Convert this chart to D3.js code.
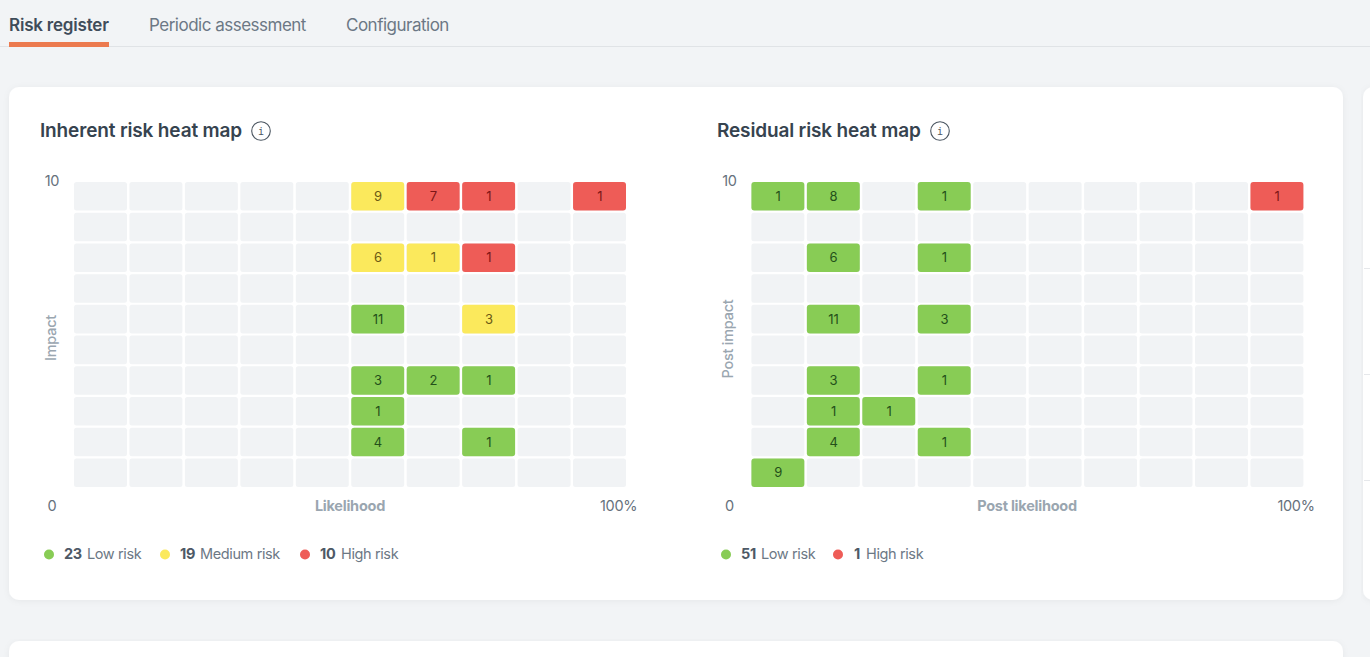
<!DOCTYPE html>
<html><head><meta charset="utf-8">
<script src="https://cdn.jsdelivr.net/npm/d3@7/dist/d3.min.js"></script>
<style>
html,body{margin:0;padding:0;background:#f2f4f6;overflow:hidden}
svg{display:block}
text{font-family:Inter,"Noto Sans",sans-serif}
</style></head><body>
<svg id="c" width="1370" height="657"></svg>
<script>
const tabs = ["Risk register","Periodic assessment","Configuration"];
const likelihoodBuckets = [0,1,2,3,4,5,6,7,8,9];
const impactBuckets = [9,8,7,6,5,4,3,2,1,0];
const levels = ["low","medium","high"];
const levelLabels = {low:"Low risk",medium:"Medium risk",high:"High risk"};
const colors = {low:"#88cc55",medium:"#fbe95c",high:"#ee5c57"};
const textColors = {low:"#24501a",medium:"#6b5a14",high:"#7d1616"};
// [likelihood bucket, impact bucket, count, level]
const inherentCells = [
 [5,9,9,"medium"],[6,9,7,"high"],[7,9,1,"high"],[9,9,1,"high"],
 [5,7,6,"medium"],[6,7,1,"medium"],[7,7,1,"high"],
 [5,5,11,"low"],[7,5,3,"medium"],
 [5,3,3,"low"],[6,3,2,"low"],[7,3,1,"low"],
 [5,2,1,"low"],
 [5,1,4,"low"],[7,1,1,"low"]
];
const residualCells = [
 [0,9,1,"low"],[1,9,8,"low"],[3,9,1,"low"],[9,9,1,"high"],
 [1,7,6,"low"],[3,7,1,"low"],
 [1,5,11,"low"],[3,5,3,"low"],
 [1,3,3,"low"],[3,3,1,"low"],
 [1,2,1,"low"],[2,2,1,"low"],
 [1,1,4,"low"],[3,1,1,"low"],
 [0,0,9,"low"]
];
const inherentLegend = [[23,"low"],[19,"medium"],[10,"high"]];
const residualLegend = [[51,"low"],[1,"high"]];

const svg = d3.select("#c");
// tabs
const tabX = [9,149,346];
svg.selectAll("text.tab").data(tabs).join("text").attr("class","tab")
 .attr("x",(d,i)=>tabX[i]).attr("y",31).attr("font-size",17).attr("letter-spacing",(d,i)=>i==0?-0.2:-0.5)
 .attr("font-weight",(d,i)=>i==0?600:400).attr("fill",(d,i)=>i==0?"#3f4c5a":"#6c7885").text(d=>d);
svg.append("rect").attr("x",0).attr("y",46).attr("width",1370).attr("height",1).attr("fill","#e0e3e6");
svg.append("rect").attr("x",9).attr("y",42).attr("width",100).attr("height",5).attr("fill","#ec7a4f");

// cards
const defs = svg.append("defs");
const f = defs.append("filter").attr("id","sh").attr("x","-5%").attr("y","-5%").attr("width","110%").attr("height","110%");
f.append("feDropShadow").attr("dx",0).attr("dy",1).attr("stdDeviation",3).attr("flood-color","#000").attr("flood-opacity",0.05);
const card=(x,y,w,h)=>svg.append("rect").attr("x",x).attr("y",y).attr("width",w).attr("height",h).attr("rx",10).attr("fill","#fff").attr("filter","url(#sh)");
card(9,87,1334,513);
card(1363,87,40,513);
card(9,641,1334,40);
[268,374,480].forEach(y=>svg.append("rect").attr("x",1364).attr("y",y).attr("width",6).attr("height",1).attr("fill","#e6e8eb"));

function heat(o){
 const g = svg.append("g");
 const x = d3.scaleBand().domain(likelihoodBuckets).range([o.x0,o.x0+552]).paddingInner(0.045);
 const y = d3.scaleBand().domain(impactBuckets).range([182,487]).paddingInner(0.07);
 const yTick = d3.scaleLinear().domain([0,10]).range([511,186]);
 const textX = o.x0-22;
 g.append("text").attr("x",o.titleX).attr("y",137).attr("font-size",19).attr("font-weight",600)
  .attr("letter-spacing",-0.15).attr("fill","#36434f").text(o.title);
 const ic = g.append("g").attr("transform",`translate(${o.iconX},131)`);
 ic.append("circle").attr("r",9.3).attr("fill","none").attr("stroke","#4a5560").attr("stroke-width",1.1);
 ic.append("text").attr("y",3.5).attr("text-anchor","middle").attr("font-size",10).attr("style","font-family:'DejaVu Sans Mono',monospace").attr("fill","#4a5560").text("i");
 // background grid
 impactBuckets.forEach(r=>likelihoodBuckets.forEach(c=>{
  g.append("rect").attr("x",x(c)).attr("y",y(r)).attr("width",x.bandwidth()).attr("height",y.bandwidth())
   .attr("rx",2.5).attr("fill","#f1f3f5");
 }));
 // data cells
 const cells = g.selectAll("g.cell").data(o.cells).join("g").attr("class","cell")
  .attr("transform",d=>`translate(${x(d[0])},${y(d[1])})`);
 cells.append("rect").attr("width",x.bandwidth()).attr("height",y.bandwidth()).attr("rx",3).attr("fill",d=>colors[d[3]]);
 cells.append("text").attr("x",x.bandwidth()/2+0.3).attr("y",y.bandwidth()/2+4.7).attr("text-anchor","middle")
  .attr("font-size",13).attr("fill",d=>textColors[d[3]]).text(d=>d[2]);
 // axes
 [[0,"0"],[10,"10"]].forEach(t=>g.append("text").attr("x",textX).attr("y",yTick(t[0])).attr("text-anchor","middle")
   .attr("font-size",14.5).attr("letter-spacing",-0.3).attr("fill","#66717c").text(t[1]));
 g.append("text").attr("x",o.x0+526).attr("y",511).attr("font-size",14.5).attr("letter-spacing",-0.3)
   .attr("fill","#66717c").text("100%");
 g.append("text").attr("x",o.xLabelX).attr("y",511).attr("text-anchor","middle").attr("font-size",14.5)
   .attr("font-weight",650).attr("letter-spacing",-0.25).attr("fill","#9aa6b0").text(o.xLabel);
 g.append("text").attr("transform",`translate(${o.yLabelX},${o.yLabelY}) rotate(-90)`).attr("text-anchor","middle")
   .attr("font-size",14.5).attr("font-weight",550).attr("letter-spacing",-0.25).attr("fill","#9aa6b0").text(o.yLabel);
 // legend
 o.legend.forEach((l,i)=>{
  const p=o.legendPos[i];
  g.append("circle").attr("cx",p[0]).attr("cy",554.5).attr("r",5).attr("fill",colors[l[1]]);
  g.append("text").attr("x",p[1]).attr("y",559).attr("font-size",14.5).attr("font-weight",650).attr("letter-spacing",-0.3).attr("fill","#4d5966").text(l[0]);
  g.append("text").attr("x",p[2]).attr("y",559).attr("font-size",14.5).attr("letter-spacing",-0.38).attr("fill","#6c7885").text(levelLabels[l[1]]);
 });
}
heat({x0:74,titleX:40,iconX:261,title:"Inherent risk heat map",cells:inherentCells,xLabel:"Likelihood",xLabelX:350,
 yLabel:"Impact",yLabelX:56,yLabelY:338,legend:inherentLegend,legendPos:[[49,64,87],[165,180,200],[305,320,341]]});
heat({x0:751.4,titleX:717,iconX:940,title:"Residual risk heat map",cells:residualCells,xLabel:"Post likelihood",xLabelX:1027,
 yLabel:"Post impact",yLabelX:733,yLabelY:339,legend:residualLegend,legendPos:[[726,741,761],[838,854,866]]});
</script>
</body></html>
